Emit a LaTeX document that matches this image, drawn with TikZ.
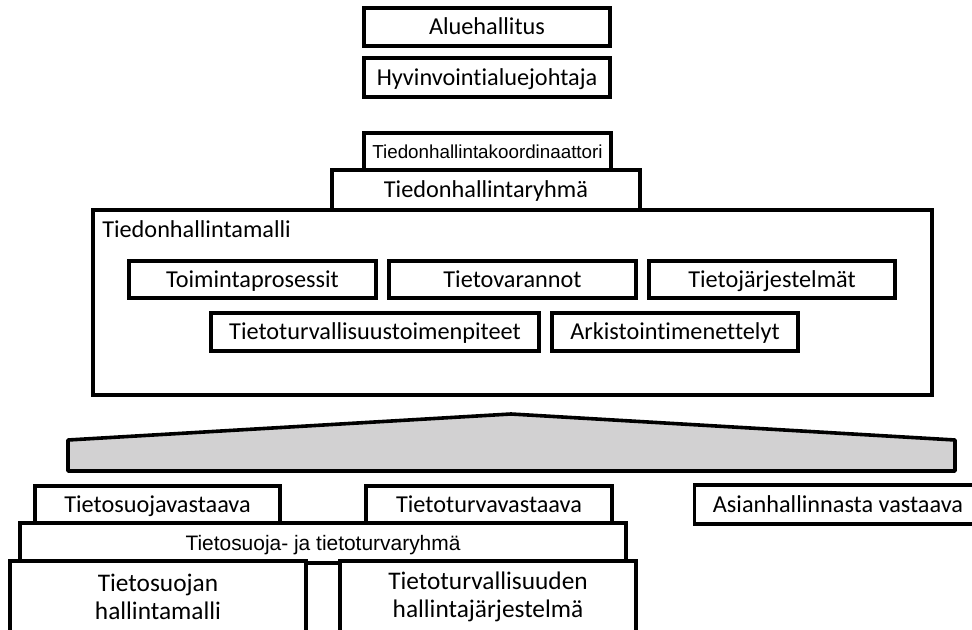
\documentclass[tikz,border=0pt]{standalone}
\usepackage{fontspec}
\setmainfont{Carlito}[Ligatures=NoCommon]
\newfontfamily\arialf{Liberation Sans}
\definecolor{trapgray}{RGB}{210,209,210}
\tikzset{
  box/.style={draw, line width=2.7pt, fill=white, inner sep=0pt, font=\fontsize{18.2}{20.3}\selectfont, text height=11.7pt, text depth=0pt},
  twoline/.style={draw, line width=2.7pt, fill=white, inner sep=0pt, font=\fontsize{19}{20.5}\selectfont, align=center},
  arialbig/.style={font=\arialf\fontsize{15.7}{18}\selectfont, text height=11.2pt},
  arialsmall/.style={font=\arialf\fontsize{14.1}{17}\selectfont, text height=10pt},
}
\begin{document}
\begin{tikzpicture}[x=0.75pt,y=-0.75pt]
\useasboundingbox (0,0) rectangle (972,630);
% top
\node[box, minimum width=184.5pt, minimum height=28.5pt] (alue) at (487,27) {Aluehallitus};
\node[box, minimum width=184.5pt, minimum height=29.25pt] (johtaja) at (487,77.5) {Hyvinvointialuejohtaja};
\node[box, arialsmall, minimum width=185.25pt, minimum height=27.75pt] (koord) at (487.5,151.5) {Tiedonhallintakoordinaattori};
% model frame
\node[box, minimum width=629.25pt, minimum height=138.75pt] (malli) at (512.5,302.5) {};
\node[box, minimum width=231pt, minimum height=30pt] (ryhma) at (486,190) {Tiedonhallintaryhmä};
\node[font=\fontsize{18.2}{20.3}\selectfont, anchor=west, inner sep=0pt] (mallilabel) at (102,229) {Tiedonhallintamalli};
\node[box, minimum width=185.25pt, minimum height=27.75pt] (toim) at (252.5,279.5) {Toimintaprosessit};
\node[box, minimum width=185.25pt, minimum height=27.75pt] (varannot) at (512.5,279.5) {Tietovarannot};
\node[box, minimum width=184.5pt, minimum height=27.75pt] (jarj) at (772,279.5) {Tietojärjestelmät};
\node[box, minimum width=246pt, minimum height=28.5pt] (toimenp) at (375,332) {Tietoturvallisuustoimenpiteet};
\node[box, minimum width=184.5pt, minimum height=28.5pt] (arkisto) at (675,332) {Arkistointimenettelyt};
% trapezoid
\draw[line width=2.7pt, fill=trapgray, line join=round] (68,471) -- (68,440) -- (511,414) -- (955,440) -- (955,471) -- cycle;
% bottom
\node[box, minimum width=183.75pt, minimum height=27.75pt] (tsv) at (157.5,504.5) {Tietosuojavastaava};
\node[box, minimum width=184.5pt, minimum height=27.75pt] (ttv) at (489,504.5) {Tietoturvavastaava};
\node[box, minimum width=215pt, minimum height=29.25pt] (asia) at (838,504.5) {Asianhallinnasta vastaava};
\node[box, arialbig, minimum width=454.5pt, minimum height=30pt] (ryhma2) at (323,543) {Tietosuoja- ja tietoturvaryhmä};
\node[twoline, minimum width=222pt, minimum height=54pt] (tsmalli) at (158,597) {Tietosuojan\\hallintamalli};
\node[twoline, minimum width=222pt, minimum height=54pt] (ttjarj) at (488,597) {Tietoturvallisuuden\\hallintajärjestelmä};
\end{tikzpicture}
\end{document}
